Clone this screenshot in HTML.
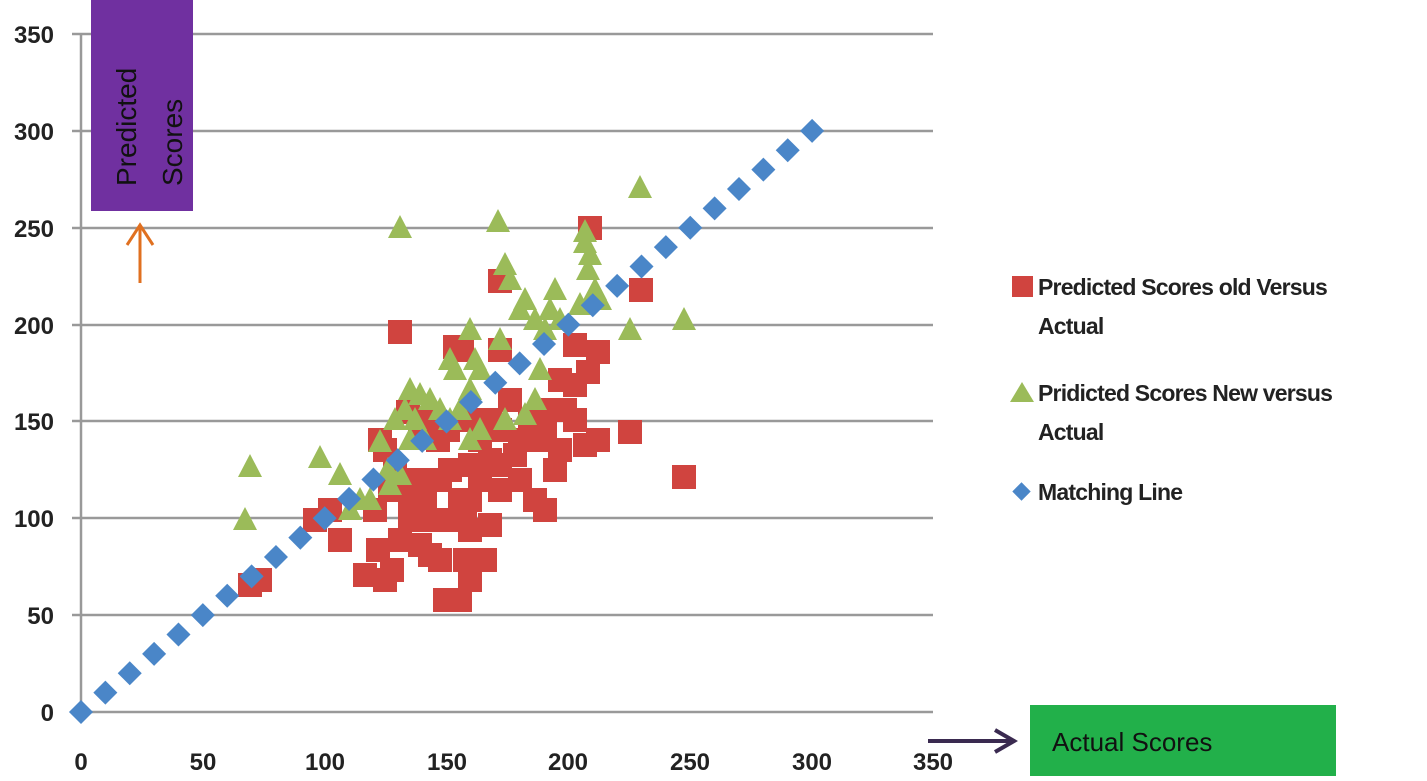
<!DOCTYPE html>
<html><head><style>
body{margin:0;background:#fff;width:1427px;height:776px;overflow:hidden;font-family:"Liberation Sans",sans-serif}
</style></head><body>
<svg width="1427" height="776" xmlns="http://www.w3.org/2000/svg" id="s">
<g stroke="#999" stroke-width="2.5">
<line x1="72" y1="34" x2="933" y2="34"/><line x1="72" y1="131" x2="933" y2="131"/>
<line x1="72" y1="228" x2="933" y2="228"/><line x1="72" y1="325" x2="933" y2="325"/>
<line x1="72" y1="421" x2="933" y2="421"/><line x1="72" y1="518" x2="933" y2="518"/>
<line x1="72" y1="615" x2="933" y2="615"/><line x1="72" y1="712" x2="933" y2="712"/>
<line x1="81" y1="34" x2="81" y2="712"/>
</g>
<g font-weight="bold" font-size="24" fill="#222" text-anchor="end">
<text x="54" y="43">350</text><text x="54" y="140">300</text><text x="54" y="237">250</text>
<text x="54" y="334">200</text><text x="54" y="430">150</text><text x="54" y="527">100</text>
<text x="54" y="624">50</text><text x="54" y="721">0</text>
</g>
<g font-weight="bold" font-size="24" fill="#222" text-anchor="middle">
<text x="81" y="770">0</text><text x="203" y="770">50</text><text x="325" y="770">100</text>
<text x="447" y="770">150</text><text x="568" y="770">200</text><text x="690" y="770">250</text>
<text x="812" y="770">300</text><text x="933" y="770">350</text>
</g>
<rect x="91" y="0" width="102" height="211" fill="#7030a0"/>
<text transform="translate(136,186) rotate(-90)" font-size="28" fill="#111">Predicted</text>
<text transform="translate(182,186) rotate(-90)" font-size="28" fill="#111">Scores</text>
<g stroke="#e07020" stroke-width="3" fill="none"><line x1="140" y1="283" x2="140" y2="225"/><polyline points="127,245 140,225 153,245"/></g>
<g id="red" fill="#d0443f"></g>
<g id="grn" fill="#9bbb59"></g>
<g id="dia" fill="#4a86c8"></g>
<rect x="1012" y="276" width="21" height="21" fill="#d0443f"/>
<polygon points="1022,382 1034,402 1010,402" fill="#9bbb59"/>
<rect x="1015" y="485" width="13" height="13" fill="#4a86c8" transform="rotate(45 1021.5 491.5)"/>
<g font-weight="bold" font-size="23" fill="#222" letter-spacing="-0.8">
<text x="1038" y="295">Predicted Scores old Versus</text><text x="1038" y="334">Actual</text>
<text x="1038" y="401">Pridicted Scores New versus</text><text x="1038" y="440">Actual</text>
<text x="1038" y="500">Matching Line</text>
</g>
<rect x="1030" y="705" width="306" height="71" fill="#22b04a"/>
<text x="1052" y="751" font-size="26" fill="#111">Actual Scores</text>
<g stroke="#3a2a50" stroke-width="4" fill="none"><line x1="928" y1="741" x2="1012" y2="741"/><polyline points="995,730 1014,741 995,752"/></g>
</svg>
<script>
var ns="http://www.w3.org/2000/svg";
function el(g,t,a){var e=document.createElementNS(ns,t);for(var k in a)e.setAttribute(k,a[k]);document.getElementById(g).appendChild(e);}
var R=[[590,228],[641,290],[400,332],[500,281],[455,347],[462,350],[575,345],[598,352],[588,372],[630,432],[684,477],[598,440],[585,445],[560,450],[540,440],[515,455],[500,465],[490,460],[470,465],[480,480],[500,490],[460,500],[420,480],[425,500],[430,520],[410,520],[400,540],[420,545],[430,555],[440,560],[470,530],[465,560],[470,580],[455,600],[445,600],[460,600],[380,440],[385,450],[375,510],[365,575],[385,580],[392,570],[378,550],[330,510],[340,540],[315,520],[250,585],[260,580],[420,420],[420,430],[408,412],[440,480],[530,420],[545,430],[520,480],[535,500],[545,510],[480,440],[490,420],[500,430],[470,420],[448,430],[438,440],[565,410],[575,420],[553,410],[510,400],[500,350],[560,380],[575,385],[490,525],[470,500],[485,560],[450,520],[465,510],[432,420],[395,470],[408,480],[390,490],[410,500],[450,470],[520,440],[555,470]];
R.forEach(function(p){el("red","rect",{x:p[0]-12,y:p[1]-12,width:24,height:24});});
var G=[[640,188],[400,228],[585,243],[590,255],[588,270],[595,290],[600,300],[630,330],[684,320],[250,467],[245,520],[320,458],[340,475],[380,442],[388,470],[390,485],[370,500],[350,510],[400,475],[410,390],[405,410],[415,420],[420,395],[430,400],[440,410],[450,420],[460,410],[470,390],[450,360],[455,370],[470,330],[475,360],[480,370],[500,340],[498,222],[505,265],[510,280],[520,310],[525,300],[535,320],[545,330],[550,310],[560,320],[540,370],[535,400],[525,415],[505,420],[480,430],[470,440],[580,305],[590,300],[555,290],[425,440],[410,440],[395,420],[360,500],[585,232]];
G.forEach(function(p){el("grn","polygon",{points:(p[0])+","+(p[1]-13)+" "+(p[0]+12)+","+(p[1]+10)+" "+(p[0]-12)+","+(p[1]+10)});});
for(var v=0;v<=300;v+=10){var x=81+v*2.437,y=712-v*1.937;el("dia","rect",{x:x-8.5,y:y-8.5,width:17,height:17,transform:"rotate(45 "+x+" "+y+")"});}
</script>
</body></html>
